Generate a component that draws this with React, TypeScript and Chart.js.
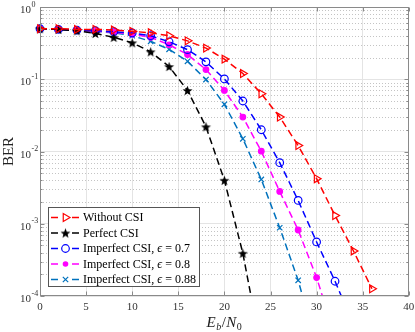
import React, { useEffect, useRef } from 'react';
import { Chart, registerables } from 'chart.js';

Chart.register(...registerables);

// Eb/N0 grid (dB)
const ebn0 = [0, 2, 4, 6, 8, 10, 12, 14, 16, 18, 20, 22, 24, 26, 28, 30, 32, 34, 36];

// BER values (last value of some series lies below the axis range)
const withoutCSI = [0.5, 0.5, 0.49, 0.49, 0.48, 0.46, 0.44, 0.4, 0.34, 0.27, 0.19, 0.12, 0.063, 0.03, 0.0121, 0.0042, 0.0013, 4.2e-4, 1.26e-4];
const perfectCSI = [0.5, 0.49, 0.47, 0.43, 0.38, 0.32, 0.24, 0.15, 0.07, 0.022, 0.004, 3.9e-4, 1.8e-5];
const imperfect07 = [0.5, 0.49, 0.48, 0.47, 0.455, 0.437, 0.4, 0.33, 0.257, 0.174, 0.101, 0.05, 0.02, 0.007, 0.0021, 5.6e-4, 1.6e-4, 4e-5];
const imperfect08 = [0.5, 0.49, 0.48, 0.46, 0.45, 0.42, 0.38, 0.3, 0.22, 0.136, 0.07, 0.03, 0.0101, 0.0028, 8.2e-4, 1.8e-4, 2.8e-5];
const imperfect088 = [0.5, 0.49, 0.47, 0.46, 0.44, 0.4, 0.335, 0.26, 0.177, 0.099, 0.045, 0.015, 0.0041, 8.8e-4, 1.65e-4, 2e-5];

const seriesLabels = ['Without CSI', 'Perfect CSI', 'Imperfect CSI, ', 'Imperfect CSI, ', 'Imperfect CSI, '];
const epsilonValues = ['', '', '0.7', '0.8', '0.88'];
const seriesColors = ['#ff0000', '#000000', '#0000ff', '#ff00ff', '#0072bd'];

const xTicks = [0, 5, 10, 15, 20, 25, 30, 35, 40];
const decadeExps = [0, -1, -2, -3, -4];

const SERIF = '"Liberation Serif", "Times New Roman", serif';

function makeStar(r: number, color: string): HTMLCanvasElement {
  const c = document.createElement('canvas');
  const s = Math.ceil(r * 2 + 2);
  c.width = s;
  c.height = s;
  const g = c.getContext('2d')!;
  g.fillStyle = color;
  g.beginPath();
  for (let i = 0; i < 10; i++) {
    const rr = i % 2 ? r * 0.42 : r;
    const ang = -Math.PI / 2 + (i * Math.PI) / 5;
    g.lineTo(s / 2 + rr * Math.cos(ang), s / 2 + 0.5 + rr * Math.sin(ang));
  }
  g.closePath();
  g.fill();
  return c;
}

function allLogTicks(): number[] {
  const out: number[] = [];
  for (let e = -4; e < 0; e++) {
    for (let m = 1; m <= 9; m++) out.push(+(m * Math.pow(10, e)).toPrecision(3));
  }
  out.push(1);
  return out;
}
const isDecade = (v: number) => Math.abs(Math.log10(v) - Math.round(Math.log10(v))) < 1e-6;

function drawMarker(ctx: CanvasRenderingContext2D, i: number, x: number, y: number, star: HTMLCanvasElement) {
  const color = seriesColors[i];
  ctx.save();
  ctx.setLineDash([]);
  ctx.strokeStyle = color;
  ctx.fillStyle = color;
  ctx.lineWidth = 1.2;
  ctx.beginPath();
  if (i === 0) {
    const r = 4.5;
    ctx.moveTo(x + r, y);
    ctx.lineTo(x - r * 0.5, y - r * 0.866);
    ctx.lineTo(x - r * 0.5, y + r * 0.866);
    ctx.closePath();
    ctx.stroke();
  } else if (i === 1) {
    ctx.drawImage(star, x - star.width / 2, y - star.height / 2);
  } else if (i === 2) {
    ctx.arc(x, y, 3.8, 0, Math.PI * 2);
    ctx.stroke();
  } else if (i === 3) {
    ctx.arc(x, y, 2.8, 0, Math.PI * 2);
    ctx.fill();
  } else {
    const d = 3.8 * Math.SQRT1_2;
    ctx.moveTo(x - d, y - d);
    ctx.lineTo(x + d, y + d);
    ctx.moveTo(x - d, y + d);
    ctx.lineTo(x + d, y - d);
    ctx.stroke();
  }
  ctx.restore();
}

export default function App() {
  const ref = useRef<HTMLCanvasElement | null>(null);

  useEffect(() => {
    if (!ref.current) return;
    const star = makeStar(5.2, '#000000');
    const series = [withoutCSI, perfectCSI, imperfect07, imperfect08, imperfect088];
    const styles: any[] = ['triangle', star, 'circle', 'circle', 'crossRot'];
    const radii = [4.5, 5, 3.8, 2.8, 3.8];
    const filled = [false, true, false, true, false];

    const datasets = series.map((vals, i) => ({
      label: seriesLabels[i] + epsilonValues[i],
      data: vals.map((v, k) => ({ x: ebn0[k], y: v })),
      borderColor: seriesColors[i],
      backgroundColor: seriesColors[i],
      borderWidth: 1.5,
      borderDash: [7, 4],
      pointStyle: styles[i],
      pointRotation: i === 0 ? 90 : 0,
      pointRadius: radii[i],
      pointBorderWidth: 1.2,
      pointBorderColor: seriesColors[i],
      pointBackgroundColor: filled[i] ? seriesColors[i] : 'rgba(0,0,0,0)',
      fill: false,
      tension: 0,
      clip: { left: 8, top: 8, right: 8, bottom: 0 },
    }));

    const decor = {
      id: 'decor',
      beforeDatasetsDraw(chart: any) {
        const { ctx, chartArea: a, scales } = chart;
        const y = scales.y;
        ctx.save();
        ctx.strokeStyle = '#c4c4c4';
        ctx.lineWidth = 1;
        ctx.setLineDash([1, 2]);
        for (const v of allLogTicks()) {
          if (isDecade(v)) continue;
          const py = Math.round(y.getPixelForValue(v)) + 0.5;
          ctx.beginPath();
          ctx.moveTo(a.left, py);
          ctx.lineTo(a.right, py);
          ctx.stroke();
        }
        ctx.restore();
      },
      afterDraw(chart: any) {
        const { ctx, chartArea: a, scales } = chart;
        const x = scales.x;
        const y = scales.y;
        ctx.save();
        // axes box
        ctx.strokeStyle = '#8a8a8a';
        ctx.lineWidth = 1;
        ctx.setLineDash([]);
        const L = Math.round(a.left) + 0.5, R = Math.round(a.right) - 0.5;
        const T = Math.round(a.top) + 0.5, B = Math.round(a.bottom) - 0.5;
        ctx.strokeRect(L, T, R - L, B - T);
        // inner ticks
        ctx.beginPath();
        for (const v of xTicks) {
          const px = Math.round(x.getPixelForValue(v)) + 0.5;
          ctx.moveTo(px, B); ctx.lineTo(px, B - 4);
          ctx.moveTo(px, T); ctx.lineTo(px, T + 4);
        }
        for (const v of allLogTicks()) {
          const py = Math.round(y.getPixelForValue(v)) + 0.5;
          const len = isDecade(v) ? 4 : 2;
          ctx.moveTo(L, py); ctx.lineTo(L + len, py);
          ctx.moveTo(R, py); ctx.lineTo(R - len, py);
        }
        ctx.stroke();

        // y tick labels 10^k
        ctx.fillStyle = '#333333';
        ctx.textBaseline = 'alphabetic';
        ctx.textAlign = 'left';
        for (const e of decadeExps) {
          const py = y.getPixelForValue(Math.pow(10, e));
          ctx.font = `11px ${SERIF}`;
          ctx.fillText('10', 20, py + 6);
          const w = ctx.measureText('10').width;
          ctx.font = `8px ${SERIF}`;
          ctx.fillText(String(e), 20 + w + 0.5, py - 0.5);
        }

        // y title
        ctx.save();
        ctx.translate(9, (a.top + a.bottom) / 2);
        ctx.rotate(-Math.PI / 2);
        ctx.textAlign = 'center';
        ctx.textBaseline = 'middle';
        ctx.fillStyle = '#222222';
        ctx.font = `15px ${SERIF}`;
        ctx.fillText('BER', 0, 0);
        ctx.restore();

        // x title  E_b / N_0
        ctx.fillStyle = '#222222';
        ctx.textAlign = 'left';
        const parts: [string, string, number][] = [
          ['E', `italic 15px ${SERIF}`, 0],
          ['b', `italic 10px ${SERIF}`, 3],
          ['/', `15px ${SERIF}`, 0],
          ['N', `italic 15px ${SERIF}`, 0],
          ['0', `10px ${SERIF}`, 3],
        ];
        let total = 0;
        for (const [t, f] of parts) { ctx.font = f; total += ctx.measureText(t).width + 0.5; }
        let cx = (a.left + a.right) / 2 - total / 2;
        const base = 327;
        for (const [t, f, dy] of parts) {
          ctx.font = f;
          ctx.fillText(t, cx, base + dy);
          cx += ctx.measureText(t).width + 0.5;
        }

        // legend
        const lx = 48.5, ly = 207.5, lw = 151, lh = 79;
        ctx.fillStyle = '#ffffff';
        ctx.fillRect(lx, ly, lw, lh);
        ctx.strokeStyle = '#555555';
        ctx.lineWidth = 1;
        ctx.strokeRect(lx, ly, lw, lh);
        const rowY = [217.5, 233, 248.5, 264, 279.5];
        for (let i = 0; i < 5; i++) {
          const ry = rowY[i];
          ctx.strokeStyle = seriesColors[i];
          ctx.lineWidth = 1.5;
          ctx.beginPath();
          ctx.moveTo(51, ry); ctx.lineTo(58, ry);
          ctx.moveTo(72, ry); ctx.lineTo(79, ry);
          ctx.stroke();
          drawMarker(ctx, i, 65.5, ry, star);
          ctx.fillStyle = '#000000';
          ctx.textBaseline = 'middle';
          ctx.font = `12px ${SERIF}`;
          ctx.fillText(seriesLabels[i], 83, ry + 0.5);
          if (epsilonValues[i]) {
            let tx = 83 + ctx.measureText(seriesLabels[i]).width;
            ctx.font = `italic 12px ${SERIF}`;
            ctx.fillText('\u03f5', tx, ry + 0.5);
            tx += ctx.measureText('\u03f5').width;
            ctx.font = `12px ${SERIF}`;
            ctx.fillText(' = ' + epsilonValues[i], tx, ry + 0.5);
          }
        }
        ctx.restore();
      },
    };

    const chart = new Chart(ref.current, {
      type: 'line',
      data: { datasets },
      options: {
        animation: false,
        responsive: false,
        maintainAspectRatio: false,
        parsing: false as any,
        layout: { padding: { top: 7, right: 5, left: 0, bottom: 0 } },
        plugins: { legend: { display: false }, tooltip: { enabled: false }, title: { display: false } },
        scales: {
          x: {
            type: 'linear',
            min: 0,
            max: 40,
            afterBuildTicks: (s: any) => { s.ticks = xTicks.map((v) => ({ value: v })); },
            afterFit: (s: any) => { s.height = 36; s.paddingRight = 0; s.paddingLeft = 0; },
            grid: { color: '#e4e4e4', drawTicks: false, lineWidth: 1 },
            border: { display: false },
            ticks: {
              color: '#333333',
              font: { family: SERIF, size: 11 },
              padding: 5,
              maxRotation: 0,
              autoSkip: false,
              callback: (v: any) => String(v),
            },
          },
          y: {
            type: 'logarithmic',
            min: 1e-4,
            max: 1,
            afterBuildTicks: (s: any) => { s.ticks = allLogTicks().map((v) => ({ value: v })); },
            afterFit: (s: any) => { s.width = 40; s.paddingTop = 0; s.paddingBottom = 0; },
            grid: {
              color: (c: any) => (c.tick && isDecade(c.tick.value) ? '#e4e4e4' : 'rgba(0,0,0,0)'),
              drawTicks: false,
              lineWidth: 1,
            },
            border: { display: false },
            ticks: { display: false },
          },
        },
      },
      plugins: [decor],
    });
    return () => chart.destroy();
  }, []);

  return (
    <div style={{ position: 'fixed', left: 0, top: 0, width: 415, height: 332, background: '#ffffff' }}>
      <canvas ref={ref} width={415} height={332} style={{ display: 'block', width: 415, height: 332 }} />
    </div>
  );
}
